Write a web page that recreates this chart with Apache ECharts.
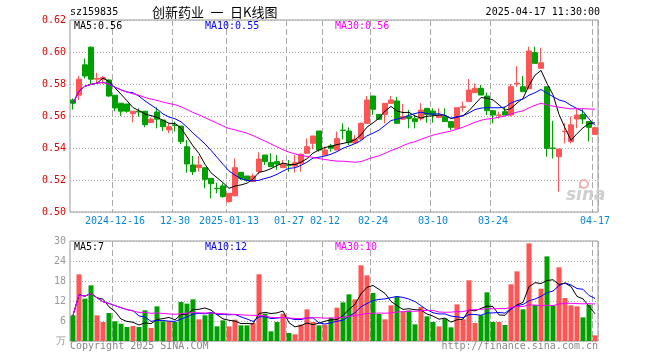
<!DOCTYPE html>
<html><head><meta charset="utf-8">
<script src="https://cdn.jsdelivr.net/npm/echarts@6/dist/echarts.min.js"></script>
<style>html,body{margin:0;padding:0;background:#fff}#c{width:660px;height:360px}</style>
</head><body><div id="c"></div>
<script>
const dates = [
'2024-12-05','2024-12-06','2024-12-09','2024-12-10','2024-12-11','2024-12-12','2024-12-13','2024-12-16','2024-12-17','2024-12-18',
'2024-12-19','2024-12-20','2024-12-23','2024-12-24','2024-12-25','2024-12-26','2024-12-27','2024-12-30','2024-12-31',
'2025-01-02','2025-01-03','2025-01-06','2025-01-07','2025-01-08','2025-01-09','2025-01-10','2025-01-13','2025-01-14','2025-01-15',
'2025-01-16','2025-01-17','2025-01-20','2025-01-21','2025-01-22','2025-01-23','2025-01-24','2025-01-27',
'2025-02-05','2025-02-06','2025-02-07','2025-02-10','2025-02-11','2025-02-12','2025-02-13','2025-02-14','2025-02-17','2025-02-18',
'2025-02-19','2025-02-20','2025-02-21','2025-02-24','2025-02-25','2025-02-26','2025-02-27','2025-02-28',
'2025-03-03','2025-03-04','2025-03-05','2025-03-06','2025-03-07','2025-03-10','2025-03-11','2025-03-12','2025-03-13','2025-03-14',
'2025-03-17','2025-03-18','2025-03-19','2025-03-20','2025-03-21','2025-03-24','2025-03-25','2025-03-26','2025-03-27','2025-03-28','2025-03-31',
'2025-04-01','2025-04-02','2025-04-03','2025-04-07','2025-04-08','2025-04-09','2025-04-10','2025-04-11','2025-04-14','2025-04-15','2025-04-16','2025-04-17'];

const opens = [0.570,0.573,0.592,0.603,0.583,0.583,0.5825,0.573,0.568,0.5675,
0.5615,0.563,0.563,0.556,0.5625,0.5575,0.5513,0.5544,0.5537,0.5408,
0.5294,0.5277,0.5277,0.521,0.5148,0.5163,0.5065,0.5102,0.5248,0.5225,
0.519,0.5252,0.5356,0.531,0.5315,0.5277,0.5292,0.5287,0.5304,0.5367,
0.5429,0.5506,0.5356,0.5413,0.5387,0.5512,0.5506,0.5431,0.5456,0.5554,
0.5725,0.561,0.561,0.5679,0.5694,0.558,0.560,0.5583,0.5583,0.5648,
0.5631,0.559,0.5596,0.5565,0.5523,0.5654,0.569,0.5746,0.5773,0.5725,
0.5633,0.5604,0.5627,0.5606,0.580,0.5783,0.577,0.5996,0.5898,0.5783,
0.540,0.5346,0.5502,0.544,0.5581,0.561,0.5565,0.5485];

const closes = [0.568,0.583,0.585,0.583,0.5835,0.584,0.5725,0.565,0.563,0.563,
0.563,0.5625,0.5546,0.558,0.558,0.5533,0.5533,0.554,0.544,0.530,
0.5252,0.5294,0.5204,0.5177,0.5146,0.5096,0.5117,0.5277,0.521,0.520,
0.5225,0.5331,0.5315,0.5283,0.530,0.530,0.529,0.5308,0.536,0.5408,
0.5475,0.5387,0.5387,0.5398,0.546,0.551,0.5433,0.5456,0.5554,0.570,
0.5642,0.5579,0.5679,0.570,0.5554,0.5596,0.5585,0.5565,0.5637,0.561,
0.561,0.5606,0.5565,0.5529,0.5652,0.5658,0.5762,0.5773,0.5731,0.5633,
0.5606,0.5606,0.5606,0.5783,0.5804,0.5752,0.6006,0.5929,0.5933,0.5398,
0.5398,0.5394,0.5504,0.5545,0.5606,0.5581,0.5529,0.5527];

const lows = [0.564,0.570,0.5835,0.580,0.580,0.580,0.572,0.563,0.560,0.562,
0.556,0.5596,0.553,0.5555,0.5523,0.5506,0.5492,0.5502,0.5425,0.5246,
0.5231,0.5252,0.5148,0.5085,0.5117,0.509,0.5058,0.5096,0.520,0.519,
0.519,0.5235,0.5294,0.5283,0.5263,0.5277,0.5252,0.5246,0.5252,0.5367,
0.5392,0.5377,0.5356,0.5377,0.5387,0.5454,0.5419,0.5431,0.545,0.5554,
0.5606,0.5575,0.5554,0.5679,0.5554,0.5575,0.5523,0.5523,0.5571,0.5558,
0.5558,0.559,0.5565,0.5513,0.5523,0.5627,0.569,0.5746,0.5731,0.5606,
0.5554,0.5585,0.5606,0.5596,0.5783,0.5752,0.577,0.5929,0.5898,0.5346,
0.5335,0.5127,0.5429,0.5429,0.5523,0.555,0.544,0.5485];

const highs = [0.571,0.585,0.596,0.6035,0.587,0.585,0.583,0.573,0.568,0.5675,
0.563,0.5648,0.563,0.559,0.5654,0.5575,0.5554,0.5565,0.5537,0.545,
0.535,0.535,0.5277,0.521,0.5183,0.5179,0.5117,0.5335,0.5248,0.5225,
0.524,0.5373,0.5356,0.5367,0.5356,0.5325,0.5325,0.5356,0.5367,0.546,
0.5475,0.5506,0.5408,0.5425,0.5502,0.5554,0.5529,0.548,0.556,0.5725,
0.5725,0.561,0.5679,0.5725,0.572,0.5675,0.5638,0.5606,0.568,0.5648,
0.5648,0.5648,0.5648,0.5565,0.5652,0.569,0.5831,0.5804,0.5794,0.5746,
0.5638,0.5627,0.5658,0.580,0.5912,0.585,0.6033,0.6033,0.6027,0.5783,
0.557,0.5394,0.5554,0.5596,0.5648,0.5648,0.5565,0.5533];

const volumes = [7.7,20,12.7,16.7,7.7,5.7,8.4,5.9,5.2,4.2,
4.5,4.2,9.2,3.9,10.4,5.9,5.9,5.7,11.7,11.2,
12.5,6.5,7.7,8.4,4.4,6.2,4.4,6.4,4.7,4.7,
5.4,20,8.2,2.9,5.7,8.2,2.4,2.0,4.9,9.5,
5.7,4.7,4.9,6.9,10,11.6,14,12.5,22.7,19.7,
14.4,8.1,6.5,10.7,13.3,8.8,9.1,5.0,10.2,7.4,
5.7,4.4,6.7,4.1,11,6.5,18.2,5.4,7.7,14.6,
5.7,5.7,4.8,17,20.9,9.5,29.3,10.8,15.7,25.4,
10.7,22.1,12.9,10.7,10.4,7.1,10.9,1.7];

const tickIndex = [7,17,26,36,42,50,60,70,87];
const tickLabels = ['2024-12-16','12-30','2025-01-13','01-27','02-12','02-24','03-10','03-24','04-17'];
const priceLegend = ['MA5:0.56','MA10:0.55','MA30:0.56'];
const volLegend = ['MA5:7','MA10:12','MA30:10'];
const titleCode = 'sz159835';
const titleName = '创新药业\u2002一\u2002日K线图';
const titleTime = '2025-04-17 11:30:00';

const UP = '#ff5555', DOWN = '#00a000';
const MONO = '"DejaVu Sans Mono", monospace';

function movingAvg(arr, n) {
  return arr.map((_, i) => {
    const s = Math.max(0, i - n + 1);
    let sum = 0;
    for (let k = s; k <= i; k++) sum += arr[k];
    return +(sum / (i - s + 1)).toFixed(5);
  });
}

const kData = dates.map((d, i) => [opens[i], closes[i], lows[i], highs[i]]);
const isTick = (i) => tickIndex.indexOf(i) >= 0;
const dashV = { show: true, interval: (i) => isTick(i), lineStyle: { color: '#aaa', type: [6, 3], width: 1 } };
const dotH = { show: true, lineStyle: { color: '#aaa', type: [1, 2], width: 1 } };

const chart = echarts.init(document.getElementById('c'), null, { renderer: 'canvas' });
const maColors = ['#000000', '#0000ff', '#ff00ff'];
const periods = [5, 10, 30];

const series = [
  { type: 'candlestick', xAxisIndex: 0, yAxisIndex: 0, data: kData, barWidth: 5,
    itemStyle: { color: UP, color0: DOWN, borderColor: UP, borderColor0: DOWN, borderWidth: 1 }, z: 2 },
  { type: 'bar', xAxisIndex: 1, yAxisIndex: 1, data: volumes, barWidth: 5,
    itemStyle: { color: (p) => closes[p.dataIndex] >= opens[p.dataIndex] ? UP : DOWN }, z: 2 }
];
periods.forEach((n, k) => {
  series.push({ type: 'line', xAxisIndex: 0, yAxisIndex: 0, data: movingAvg(closes, n), showSymbol: false,
    lineStyle: { color: maColors[k], width: 1 }, z: 5, silent: true });
  series.push({ type: 'line', xAxisIndex: 1, yAxisIndex: 1, data: movingAvg(volumes, n), showSymbol: false,
    lineStyle: { color: maColors[k], width: 1 }, z: 5, silent: true });
});

const txt = (x, y, text, color, font, align) => ({ type: 'text', x, y, z: 10,
  style: { text, fill: color, font, align: align || 'left', verticalAlign: 'middle' } });

const legendX = [74, 205, 335];
const graphics = [
  txt(70, 12, titleCode, '#000', '10px ' + MONO),
  txt(152, 12, titleName, '#000', '13px "Noto Sans CJK SC"'),
  txt(600, 12, titleTime, '#000', '10px ' + MONO, 'right'),
  txt(70, 346, 'Copyright 2025 SINA.COM', '#888', '10px ' + MONO),
  txt(598, 346, 'http://finance.sina.com.cn', '#888', '10px ' + MONO, 'right'),
  { type: 'text', x: 566, y: 196, z: 1, style: { text: 'sina', fill: '#cfcfcf', font: 'italic bold 17px "DejaVu Sans"', verticalAlign: 'middle' } },
  { type: 'circle', shape: { cx: 584, cy: 184, r: 4 }, z: 1, style: { fill: 'none', stroke: '#f0b0b0', lineWidth: 2 } }
];
priceLegend.forEach((t, k) => graphics.push(txt(legendX[k], 26, t, maColors[k], '10px ' + MONO)));
volLegend.forEach((t, k) => graphics.push(txt(legendX[k], 247, t, maColors[k], '10px ' + MONO)));

chart.setOption({
  animation: false,
  backgroundColor: '#fff',
  grid: [
    { left: 70, top: 20, width: 528, height: 192, show: true, borderColor: '#999', borderWidth: 1, backgroundColor: 'transparent' },
    { left: 70, top: 241, width: 528, height: 100, show: true, borderColor: '#999', borderWidth: 1, backgroundColor: 'transparent' }
  ],
  xAxis: [
    { type: 'category', gridIndex: 0, data: dates, boundaryGap: true,
      axisLine: { show: false }, axisTick: { show: false },
      axisLabel: { interval: (i) => isTick(i), formatter: (v, i) => tickLabels[tickIndex.indexOf(i)] || '',
        color: '#0a88d8', fontFamily: MONO, fontSize: 10, margin: 4 },
      splitLine: dashV },
    { type: 'category', gridIndex: 1, data: dates, boundaryGap: true,
      axisLine: { show: false }, axisTick: { show: false }, axisLabel: { show: false },
      splitLine: dashV }
  ],
  yAxis: [
    { type: 'value', gridIndex: 0, min: 0.50, max: 0.62, interval: 0.02, scale: true,
      axisLine: { show: false }, axisTick: { show: false },
      axisLabel: { formatter: (v) => v.toFixed(2), color: '#e00000', fontFamily: MONO, fontSize: 10, margin: 4 },
      splitLine: dotH },
    { type: 'value', gridIndex: 1, min: 0, max: 30, interval: 6,
      axisLine: { show: false }, axisTick: { show: false },
      axisLabel: { formatter: (v) => v === 0 ? '万' : String(v), color: '#999', fontFamily: MONO, fontSize: 10, margin: 4 },
      splitLine: dotH }
  ],
  series,
  graphic: graphics
});
</script></body></html>
